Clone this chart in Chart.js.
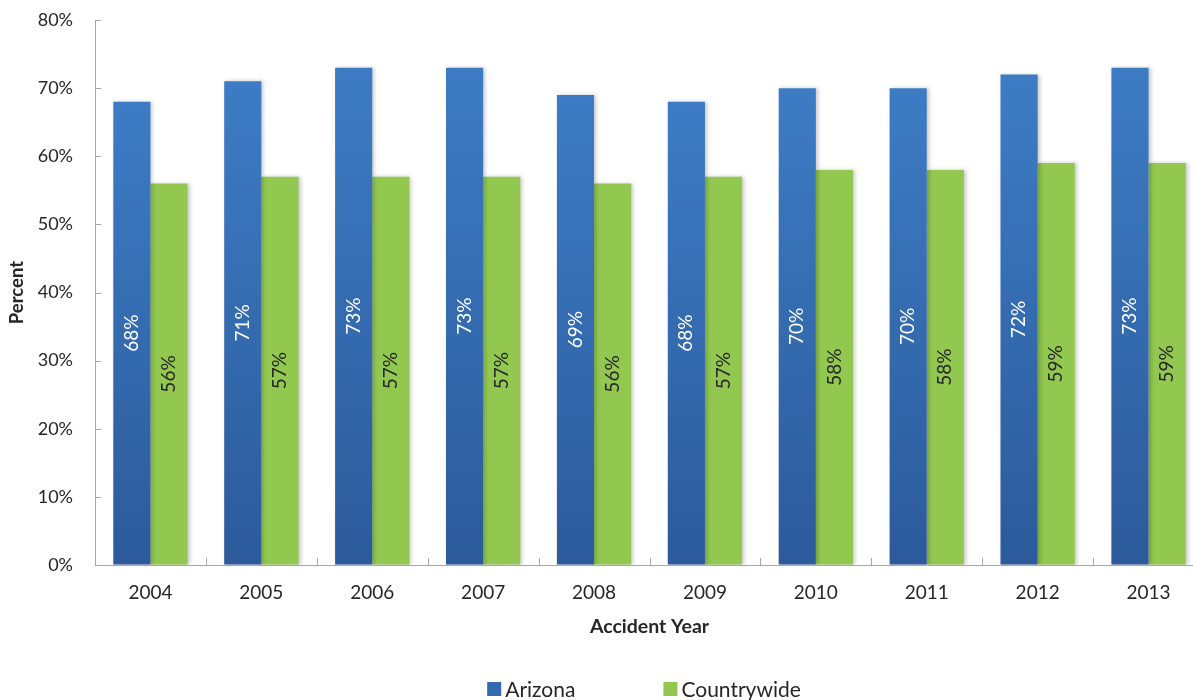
<!DOCTYPE html>
<html>
<head>
<meta charset="utf-8">
<script src="https://cdn.jsdelivr.net/npm/chart.js@4.4.1/dist/chart.umd.min.js"></script>
<style>
  html, body { margin: 0; padding: 0; background: #fff; overflow: hidden; }
  #wrap { width: 1210px; height: 700px; position: relative; }
</style>
</head>
<body>
<div id="wrap"><canvas id="chart"></canvas></div>
<script>
const years = ['2004', '2005', '2006', '2007', '2008', '2009', '2010', '2011', '2012', '2013'];
const arizona = [68, 71, 73, 73, 69, 68, 70, 70, 72, 73];
const countrywide = [56, 57, 57, 57, 56, 57, 58, 58, 59, 59];
const yTicks = [0, 10, 20, 30, 40, 50, 60, 70, 80];

const FONT = 'Lato, "Open Sans", sans-serif';
const AXIS = '#a6a6a6';
const TEXT = '#262626';

// blue bars get a top-to-bottom gradient, one per bar
function blueFill(c) {
  const chart = c.chart;
  if (!chart.chartArea || c.type !== 'data') return '#3b78c0';
  const y = chart.scales.y;
  const top = y.getPixelForValue(c.parsed.y);
  const g = chart.ctx.createLinearGradient(0, top, 0, y.getPixelForValue(0));
  g.addColorStop(0, '#3d7cc4');
  g.addColorStop(1, '#2c5a9b');
  return g;
}

// bar shadow, inside tick marks, rotated value labels and the legend
const extras = {
  id: 'extras',
  beforeDatasetsDraw(chart) {
    const ctx = chart.ctx;
    ctx.save();
    ctx.shadowColor = 'rgba(0,0,0,0.22)';
    ctx.shadowBlur = 4;
    ctx.shadowOffsetX = 2;
  },
  afterDatasetsDraw(chart) {
    const ctx = chart.ctx;
    ctx.restore();
    const { x, y } = chart.scales;
    const area = chart.chartArea;

    ctx.save();
    ctx.strokeStyle = AXIS;
    ctx.lineWidth = 1;
    yTicks.forEach(v => {
      const py = Math.round(y.getPixelForValue(v)) + 0.5;
      ctx.beginPath();
      ctx.moveTo(area.left, py);
      ctx.lineTo(area.left + 6, py);
      ctx.stroke();
    });
    for (let i = 1; i < years.length; i++) {
      const px = Math.round((x.getPixelForValue(i - 1) + x.getPixelForValue(i)) / 2) + 0.5;
      ctx.beginPath();
      ctx.moveTo(px, area.bottom);
      ctx.lineTo(px, area.bottom - 7);
      ctx.stroke();
    }

    ctx.font = '19px ' + FONT;
    ctx.textAlign = 'center';
    ctx.textBaseline = 'middle';
    chart.data.datasets.forEach((ds, di) => {
      const meta = chart.getDatasetMeta(di);
      meta.data.forEach((bar, i) => {
        const cy = (bar.y + bar.base) / 2;
        ctx.save();
        ctx.translate(bar.x, cy);
        ctx.rotate(-Math.PI / 2);
        ctx.fillStyle = di === 0 ? '#ffffff' : TEXT;
        ctx.fillText(ds.data[i] + '%', 0, 0);
        ctx.restore();
      });
    });
    ctx.restore();
  },
  afterDraw(chart) {
    // legend: two swatches under the plot
    const ctx = chart.ctx;
    const items = [
      { text: chart.data.datasets[0].label, color: '#3569b0' },
      { text: chart.data.datasets[1].label, color: '#92c850' }
    ];
    ctx.save();
    ctx.font = '21px ' + FONT;
    ctx.textBaseline = 'middle';
    const box = 14, gap = 4, between = 88, cy = 689;
    const widths = items.map(it => box + gap + ctx.measureText(it.text).width);
    let lx = 644 - (widths[0] + between + widths[1]) / 2;
    items.forEach((it, i) => {
      ctx.fillStyle = it.color;
      ctx.fillRect(lx, cy - box / 2, box, box);
      ctx.fillStyle = TEXT;
      ctx.fillText(it.text, lx + box + gap, cy + 1);
      lx += widths[i] + between;
    });
    ctx.restore();
  }
};

new Chart(document.getElementById('chart'), {
  type: 'bar',
  data: {
    labels: years,
    datasets: [
      { label: 'Arizona', data: arizona, backgroundColor: blueFill, borderWidth: 0,
        categoryPercentage: 0.67, barPercentage: 1.0 },
      { label: 'Countrywide', data: countrywide, backgroundColor: '#92c850', borderWidth: 0,
        categoryPercentage: 0.67, barPercentage: 1.0 }
    ]
  },
  plugins: [extras],
  options: {
    responsive: true,
    maintainAspectRatio: false,
    animation: false,
    layout: { padding: { top: 20, left: 0, right: 6, bottom: 40 } },
    plugins: {
      tooltip: { enabled: false },
      legend: { display: false }
    },
    scales: {
      x: {
        grid: { display: false, drawTicks: false },
        border: { color: AXIS, width: 1 },
        ticks: { font: { family: FONT, size: 19 }, color: TEXT, padding: 16 },
        title: { display: true, text: 'Accident Year', font: { family: FONT, size: 19.5, weight: 'bold' }, color: TEXT, padding: { top: 10, bottom: 22 } },
        afterFit(s) { s.height = 95; }
      },
      y: {
        min: 0,
        max: 80,
        // invisible tick marks keep the label gap without pushing the top down
        grid: { display: true, drawOnChartArea: false, drawTicks: true, tickLength: 13, color: 'rgba(0,0,0,0)' },
        border: { color: AXIS, width: 1 },
        ticks: {
          stepSize: 10,
          font: { family: FONT, size: 18 },
          color: TEXT,
          padding: 9,
          callback: v => v + '%'
        },
        title: { display: true, text: 'Percent', font: { family: FONT, size: 18.5, weight: 'bold' }, color: TEXT, padding: { top: 6, bottom: 4 } },
        afterFit(s) { s.width = 95; }
      }
    }
  }
});
</script>
</body>
</html>
